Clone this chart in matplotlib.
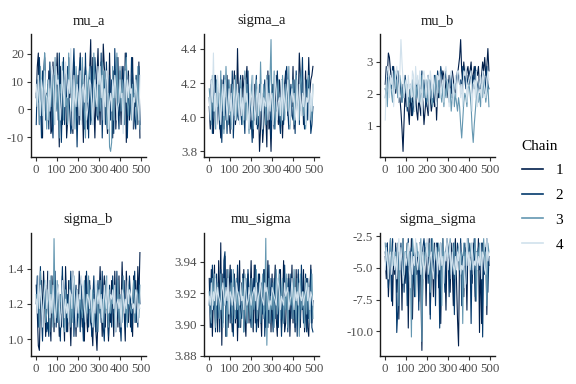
import numpy as np
import matplotlib.pyplot as plt
from matplotlib.lines import Line2D

plt.rcParams['font.family'] = ['Liberation Serif', 'DejaVu Serif']

params = ['mu_a', 'sigma_a', 'mu_b', 'sigma_b', 'mu_sigma', 'sigma_sigma']
chains = ['1', '2', '3', '4']
chain_colors = ['#011f4b', '#03396c', '#6497b1', '#d1e1ec']

# draws at every 5th iteration,
# coded a..z on a linear scale between low and high of each parameter
low = [-15.0, 3.80, 0.20, 0.91, 3.884, -11.5]
high = [25.0, 4.455, 3.70, 1.57, 3.955, -2.7]

mu_a_draws = [
    "mtwgqkdrvi nhsqefuljp wmbtkgrnqd hvmsjeuoki rgwnlcqtmf jszhvkdnrx mgulytqjeh wkndsrfmvi ogtqjwcmsh lpvfnkrgud",
    "gqlvmdsjwh kpfunidrmt qhwlcmvgsk tnjegrxolb msvhqkfwjn dqgtlmvrih pkwdnsgumj rhqlexnvkf smjtgqwdoi kvrmhfqntg",
    "nkrgtmipwl fqhoksmgvj lrdpnuhqkm gwnsjqlfto kmrhvnjdsl qtnhgwkpmi rjmulsqhfn bacthrmwkp tjqmgsvlin qhpkmrgtjf",
    "pkrmiqoesn mhqjotrlgt pqmhlsnkur mqnxofrmkp nisgoplrhj mqplgoqmkt ptmrhoksqf lnjqmrohkl qmnepslqmr nofmlqnkhr",
]
sigma_a_draws = [
    "kfpiemrgln hdqjfmkrgi eplnsgjxmh kjrohqtmkf hmdpigjlaf ncgkibsfha kpmhrlgqnj dlpsniqgmk tfhnplwrjq gmsklvnqrt",
    "mhqelrjgpk ficnrhmeql jgsdkpniho rgmjeqlsfn ickhmrfgpj lemqgnhrkd pifljsmheq kgnrtjfmpi hqeslkgrnv jfmqhslegk",
    "olgrjmfqkn hsjpeltmgq kfpmirhlnj qmgkshpjel nrfjmqgkiu ljpmgrknqz hjsflnqimg rkhpmjtfln qgjrmkhpsl infkqrmjhp",
    "mhqlwjnfro kgmpiqnhlo jnflqhmpkg oimhqlnjfp lhrkgmoinj pfmlkqhnjm ngkrohlmiq hpljnqkgmo lnhkqgpmin kqgmlohnjp",
]
mu_b_draws = [
    "ptrwvsqrtp nqolmjfaho kmjgoimlkn jhmkinlgjm kiomjlnkph nmqopsrnqo mrpnsqonpr tvzsqurpst qsuprtqsrt oqrusvrtxs",
    "onqsprotqn prsoqnlpmr ojmlpnikmo qnlposmqnk prnqmolrpn sqotrpnqso qoprmnopqs rpqntsqorp psqnrotqpn qopsrnqtpo",
    "mpkroqnlps oqmnrplonq npkmolqnjp mqolnrpmoq lnqomkpnrm oqmnlpkomq nlojmpknlj mkgdhlnmko pnkfcgjmol nkpmqolnpk",
    "hqtsmrpsko rtqlszuqmp qkropmsrjt prlsoirsqm qrjsqmrplk rqsmpqlstq pkrsqlprms sqmpksrtlp qrsjpqmskn prlsqompsq",
]
sigma_b_draws = [
    "pjcblqhsme ksgidrlfqj hmengrkdtl fqjclshmeo ispkgmdrjf lqhgcnkfbj mtlenrgqkd jhqlesimgr fkuljdsnhq glerjqhtmw",
    "lrgmtjdnkp fheqkoimsg lpjdmtgkqf nhlsirelpg kmfqjdnhsl gpkemriflq jnhsgdlqme pkgrjmfsil hdnlqgkpjr mfjoshkgql",
    "nkpgslimqh jolfrmgzki qhlnjpmfol ikqgnhrljo mgpkilqhnj rljhogkmpf lqimhnjrkg ojmlpgikqh nlhrkjmgpl kjmqhlonip",
    "mjrkpmgloq kmsinjplhk nplgkqnimj lhonksplgo jnmrpokhln mkolgmjqnl oknhlpmkrj lnmokpflmk mgonjmkqlo nmkljonhlk",
]
mu_sigma_draws = [
    "qfsdmtgpeu hybrkvdsfo tjemrgqcnu fpkshdnrgm uietglpfrj dqmsfkugoe rhnthdpmsf kuegqjrdlt gneshrmfpj seiqfdmtgl",
    "kqftjmerhn eslguwdqjm gsjdqmhtfp lhrekqgsni fmqjtehrlg pisdkmftgq jeqhrlfsmd mgtjpeqkrh lqfmdsjhtn gkreqhmsfe",
    "nigqkrfmpj hrlfqmkdsi mpgslhqjnf ikqeroglmh qfnjmshkpg lrhjzbnqgm jpflsikrhn qgmjrfnlkp hslgqmdrjk nfqipkgmrh",
    "mkpjnlqkom ljnpmkolqi nmkoljpnmk plmjqnklom kmnolpjmnq mlkpnomjlk onmlkqpnjm lkpmnojlmq mjolnkpmln kmnplojnmk",
]
sigma_sigma_draws = [
    "vqymsztkwr ynvhuxjzsp uyfwqzhvny rwlyoatvxk wszivvmyqw yowgvzrtjx uwnyskvzqh bwyrvmxujz xtwpyvlwsz ewgyrvxiwt",
    "wtyouwlzvs xejwtyrvnw wkzsvxpwmy vwjytsxzwv ypwhzvswky vwfysxtnwz xmwvryiwsy wrzkvwypsw yvgwtzmwvx swydvrwznv",
    "yuwqvzswtv wsykvuwzrw vytwsdzwvm yvwszcvwty wvynszwuvx tywvkzswvy vwzrtwyqvw xsvwgytwvz wvysuwzlwv ytwvzswkyw",
    "sxuqvwrtys vqwzsxuprw tvysowrvtz usvyrtwqsv zrtvwsquyv rwsytvpwuz svyqwtrvsw uyrtsvopzt wsvyrutwsv tyqwvsrzuw",
]
draws = [mu_a_draws, sigma_a_draws, mu_b_draws, sigma_b_draws, mu_sigma_draws, sigma_sigma_draws]

yticks = [
    [-10, 0, 10, 20],
    [3.8, 4.0, 4.2, 4.4],
    [1, 2, 3],
    [1.0, 1.2, 1.4],
    [3.88, 3.90, 3.92, 3.94],
    [-10.0, -7.5, -5.0, -2.5],
]
xticks = [0, 100, 200, 300, 400, 500]
fmts = ['{:.0f}', '{:.1f}', '{:.0f}', '{:.1f}', '{:.2f}', '{:.1f}']


def decode(s, lo, hi):
    idx = np.array([ord(c) - 97 for c in "".join(s.split())], dtype=float)
    return lo + (hi - lo) * idx / 25.0


fig = plt.figure(figsize=(5.76, 3.84), dpi=100)

lefts = [31, 204, 380]
tops = [34, 233]
w, h = 115, 123

for k, name in enumerate(params):
    r, c = divmod(k, 3)
    ax = fig.add_axes([lefts[c] / 576, 1 - (tops[r] + h) / 384, w / 576, h / 384])
    ymin, ymax = np.inf, -np.inf
    for ch in range(4):
        y = decode(draws[k][ch], low[k], high[k])
        x = 1 + 5 * np.arange(len(y))
        ax.plot(x, y, color=chain_colors[ch], lw=0.8)
        ymin, ymax = min(ymin, y.min()), max(ymax, y.max())
    pad = 0.05 * (ymax - ymin)
    ax.set_ylim(ymin - pad, ymax + pad)
    ax.set_xlim(-24, 525)
    ax.set_xticks(xticks)
    ax.set_xticklabels([str(t) for t in xticks])
    ax.set_yticks(yticks[k])
    ax.set_yticklabels([fmts[k].format(t) for t in yticks[k]])
    for side in ['top', 'right']:
        ax.spines[side].set_visible(False)
    for side in ['left', 'bottom']:
        ax.spines[side].set_linewidth(1.0)
        ax.spines[side].set_color('#1a1a1a')
    ax.tick_params(length=3, width=0.8, color='#333333', labelcolor='#4d4d4d',
                   labelsize=9.3, pad=2)
    ax.set_title(name, fontsize=10.5, color='#1a1a1a', pad=7)

handles = [Line2D([], [], color=col, lw=1.2) for col in chain_colors]
fig.legend(handles, chains, title='Chain', loc='upper left',
           bbox_to_anchor=(508 / 576, 1 - 126 / 384), frameon=False,
           fontsize=11, title_fontsize=11, handlelength=1.4,
           labelspacing=0.72, alignment='left')

fig.savefig('out.png', dpi=100)
